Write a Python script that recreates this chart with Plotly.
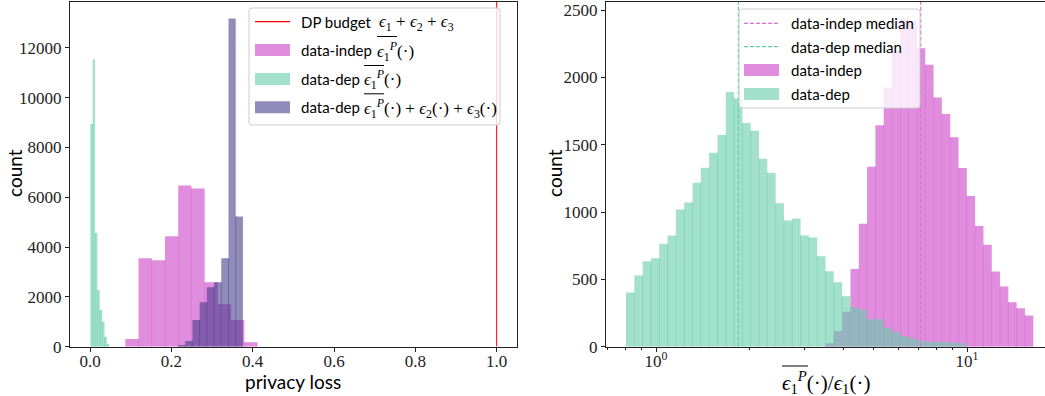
import numpy as np
import plotly.graph_objects as go

# ---------------- data: left panel (privacy loss) ----------------
budget = 1.0
indep_lo, indep_width = 0.0868, 0.03253
indep_counts = [308, 3548, 3468, 4428, 6468, 6348, 2588, 1708, 1068, 174]
dep_lo, dep_width = 0.0007, 0.00584
dep_counts = [8936, 11533, 4576, 2268, 1468, 1000, 400, 108]
tot_lo, tot_width = 0.2163, 0.01775
tot_counts = [68, 228, 1068, 1788, 2388, 2588, 3548, 13176, 5228]

# ---------------- data: right panel (ratio, log bins) ----------------
ratio_lo, ratio_hi, ratio_nbins = 0.8009, 16.34, 49
ratio_indep_counts = [0, 0, 0, 0, 0, 0, 0, 0, 0, 0, 0, 0, 0, 0, 0, 0, 0, 0, 0, 0,
                      0, 0, 0, 0, 25, 116, 259, 577, 914, 1336, 1644, 1925, 2197,
                      2438, 2420, 2216, 2093, 1851, 1728, 1555, 1328, 1119, 897,
                      757, 559, 448, 330, 285, 231]
ratio_dep_counts = [402, 528, 634, 656, 765, 826, 1018, 1070, 1218, 1329, 1440,
                    1573, 1891, 1844, 1662, 1603, 1396, 1292, 1065, 937, 952, 826,
                    811, 671, 560, 479, 375, 291, 276, 203, 203, 141, 109, 79, 62,
                    44, 37, 37, 33, 31, 26, 0, 0, 0, 0, 0, 0, 0, 0]
median_indep = 7.10
median_dep = 1.84

left_xticks = [0.0, 0.2, 0.4, 0.6, 0.8, 1.0]
left_yticks = [0, 2000, 4000, 6000, 8000, 10000, 12000]
right_yticks = [0, 500, 1000, 1500, 2000, 2500]
right_xticks = [1, 10]
right_xticklabels = ["10<sup>0</sup>", "10<sup>1</sup>"]
right_xminor = [0.7, 0.8, 0.9, 2, 3, 4, 5, 6, 7, 8, 9]

# ---------------- style ----------------
W, H = 1045, 396
C_INDEP = "rgba(218,112,214,0.8)"
C_DEP = "rgba(102,205,170,0.6)"
C_TOT = "rgba(72,61,139,0.6)"
C_INDEP_LINE = "rgb(218,112,214)"
C_DEP_LINE = "rgb(102,205,170)"
SANS = "Lato"
SERIF = "Liberation Serif, DejaVu Serif"

Y1MAX = max(tot_counts) * 1.05
Y2MAX = max(ratio_indep_counts) * 1.05


def lin_edges(lo, width, n):
    return [lo + width * i for i in range(n + 1)]


def hist_polys(edges, counts):
    xs, ys = [], []
    for i, c in enumerate(counts):
        if c <= 0:
            continue
        a, b = edges[i], edges[i + 1]
        xs += [a, a, b, b, a, None]
        ys += [0, c, c, 0, 0, None]
    return xs, ys


def hist_seams(edges, counts):
    xs, ys = [], []
    for i in range(len(counts) - 1):
        h = min(counts[i], counts[i + 1])
        if h > 0:
            xs += [edges[i + 1], edges[i + 1], None]
            ys += [0, h, None]
    return xs, ys


fig = go.Figure()


def add_hist(edges, counts, color, xa, ya):
    px_, py_ = hist_polys(edges, counts)
    fig.add_trace(go.Scatter(x=px_, y=py_, mode="lines", fill="toself",
                             fillcolor=color, line=dict(width=0),
                             xaxis=xa, yaxis=ya, hoverinfo="skip",
                             showlegend=False))
    sx, sy = hist_seams(edges, counts)
    if sx:
        fig.add_trace(go.Scatter(x=sx, y=sy, mode="lines",
                                 line=dict(color=color, width=0.8),
                                 xaxis=xa, yaxis=ya, hoverinfo="skip",
                                 showlegend=False))


# left panel
add_hist(lin_edges(indep_lo, indep_width, len(indep_counts)), indep_counts, C_INDEP, "x", "y")
add_hist(lin_edges(dep_lo, dep_width, len(dep_counts)), dep_counts, C_DEP, "x", "y")
add_hist(lin_edges(tot_lo, tot_width, len(tot_counts)), tot_counts, C_TOT, "x", "y")
fig.add_trace(go.Scatter(x=[budget, budget], y=[0, Y1MAX], mode="lines",
                         line=dict(color="red", width=1), xaxis="x", yaxis="y",
                         hoverinfo="skip", showlegend=False))

# right panel
r_edges = list(np.geomspace(ratio_lo, ratio_hi, ratio_nbins + 1))
add_hist(r_edges, ratio_indep_counts, C_INDEP, "x2", "y2")
add_hist(r_edges, ratio_dep_counts, C_DEP, "x2", "y2")
fig.add_trace(go.Scatter(x=[median_indep, median_indep], y=[0, Y2MAX], mode="lines",
                         line=dict(color=C_INDEP_LINE, width=1.2, dash="4px,2px"),
                         xaxis="x2", yaxis="y2", hoverinfo="skip", showlegend=False))
fig.add_trace(go.Scatter(x=[median_dep, median_dep], y=[0, Y2MAX], mode="lines",
                         line=dict(color=C_DEP_LINE, width=1.2, dash="4px,2px"),
                         xaxis="x2", yaxis="y2", hoverinfo="skip", showlegend=False))


def px(x):
    return x / W


def py(y):
    return 1 - y / H


tickfont = dict(family=SERIF, size=17, color="#222")
axline = dict(showline=True, linecolor="#222", linewidth=1, ticks="outside",
              ticklen=4, tickcolor="#222", showgrid=False, zeroline=False,
              tickfont=tickfont, automargin=False)

ydom = [py(346.7), py(2)]
fig.update_layout(
    width=W, height=H, margin=dict(l=0, r=0, t=0, b=0, autoexpand=False),
    paper_bgcolor="white", plot_bgcolor="white", showlegend=False,
    xaxis=dict(domain=[px(70), px(517)], range=[-0.0492, 1.0500],
               tickvals=left_xticks, ticktext=[f"{v:.1f}" for v in left_xticks],
               mirror=True, anchor="y", ticklabelstandoff=-5, **axline),
    yaxis=dict(domain=ydom, range=[0, Y1MAX], tickvals=left_yticks,
               ticktext=[str(v) for v in left_yticks], mirror=True, anchor="x",
               **axline),
    xaxis2=dict(domain=[px(606), 1.0], type="log", range=[-0.1608, 1.2508],
                tickvals=right_xticks, ticktext=right_xticklabels, mirror=True,
                anchor="y2", ticklabelstandoff=-5,
                minor=dict(tickvals=right_xminor, ticks="outside", ticklen=2,
                           tickcolor="#222"),
                **axline),
    yaxis2=dict(domain=ydom, range=[0, Y2MAX], tickvals=right_yticks,
                ticktext=[str(v) for v in right_yticks], mirror=False,
                anchor="x2", **axline),
)


def rbox(x0, y0, x1, y1, r=3):
    X0, X1 = px(x0), px(x1)
    Y0, Y1 = py(y0), py(y1)
    rx, ry = r / W, r / H
    return (f"M{X0+rx},{Y0} L{X1-rx},{Y0} Q{X1},{Y0} {X1},{Y0-ry} "
            f"L{X1},{Y1+ry} Q{X1},{Y1} {X1-rx},{Y1} L{X0+rx},{Y1} "
            f"Q{X0},{Y1} {X0},{Y1+ry} L{X0},{Y0-ry} Q{X0},{Y0} {X0+rx},{Y0} Z")


shapes = []
annos = []


def legend_box(x0, y0, x1, y1):
    shapes.append(dict(type="path", path=rbox(x0, y0, x1, y1), xref="paper",
                       yref="paper", fillcolor="rgba(255,255,255,0.8)",
                       line=dict(color="rgb(204,204,204)", width=1), layer="above"))


def legend_line(x0, x1, yc, color, dash="solid"):
    shapes.append(dict(type="line", xref="paper", yref="paper", x0=px(x0), x1=px(x1),
                       y0=py(yc), y1=py(yc), line=dict(color=color, width=1.2, dash=dash),
                       layer="above"))


def legend_patch(x0, x1, yc, color):
    shapes.append(dict(type="rect", xref="paper", yref="paper", x0=px(x0), x1=px(x1),
                       y0=py(yc - 6), y1=py(yc + 6), fillcolor=color,
                       line=dict(width=0), layer="above"))


def overline(x0, x1, y):
    shapes.append(dict(type="line", xref="paper", yref="paper", x0=px(x0), x1=px(x1),
                       y0=py(y), y1=py(y), line=dict(color="black", width=1),
                       layer="above"))


def label(x, yc, text, size=15, family=SANS):
    annos.append(dict(x=px(x), y=py(yc), xref="paper", yref="paper", text=text,
                      showarrow=False, xanchor="left", yanchor="middle",
                      borderpad=0, xshift=-1,
                      font=dict(family=family, size=size, color="black")))


EPS1P = "<i>ϵ</i><sub>1</sub><sup><i>P</i></sup>"
OVL = 20  # width of the overline over ϵ1P at 17px

# left legend
legend_box(249, 8, 500, 125)
legend_line(255, 290, 21.7, "red")
label(301, 21.7, "DP budget")
label(379, 22.7, "<i>ϵ</i><sub>1</sub> + <i>ϵ</i><sub>2</sub> + <i>ϵ</i><sub>3</sub>", 17, SERIF)
legend_patch(255, 290, 50, C_INDEP)
label(301, 50, "data-indep")
label(377, 51, EPS1P + "(·)", 17, SERIF)
overline(377, 377 + OVL, 36.5)
legend_patch(255, 290, 79, C_DEP)
label(301, 79, "data-dep")
label(364, 80, EPS1P + "(·)", 17, SERIF)
overline(364, 364 + OVL, 65.5)
legend_patch(255, 290, 107.3, C_TOT)
label(301, 107.3, "data-dep")
label(364, 108.3, EPS1P + "(·) + <i>ϵ</i><sub>2</sub>(·) + <i>ϵ</i><sub>3</sub>(·)", 17, SERIF)
overline(364, 364 + OVL, 93.8)

# right legend
legend_box(739, 9, 920, 108)
legend_line(744, 779, 23.3, C_INDEP_LINE, "4px,2px")
label(791, 23.3, "data-indep median")
legend_line(744, 779, 46.7, C_DEP_LINE, "4px,2px")
label(791, 46.7, "data-dep median")
legend_patch(744, 779, 70, C_INDEP)
label(791, 70, "data-indep")
legend_patch(744, 779, 94, C_DEP)
label(791, 94, "data-dep")

# axis titles
for xc in (14, 554):
    annos.append(dict(x=px(xc), y=py(173), xref="paper", yref="paper", text="count",
                      textangle=-90, showarrow=False, xanchor="center", yanchor="middle",
                      font=dict(family=SANS, size=19, color="black")))
annos.append(dict(x=px(293), y=py(381), xref="paper", yref="paper", text="privacy loss",
                  showarrow=False, xanchor="center", yanchor="middle",
                  font=dict(family=SANS, size=19, color="black")))
label(782, 382, EPS1P + "(·)/<i>ϵ</i><sub>1</sub>(·)", 21, SERIF)
overline(782, 782 + 26, 366)

fig.update_layout(shapes=shapes, annotations=annos)
fig.write_html("out.html",
               config={"displayModeBar": False},
               post_script="document.body.style.margin='0px';"
                           "document.body.style.overflow='hidden';")
